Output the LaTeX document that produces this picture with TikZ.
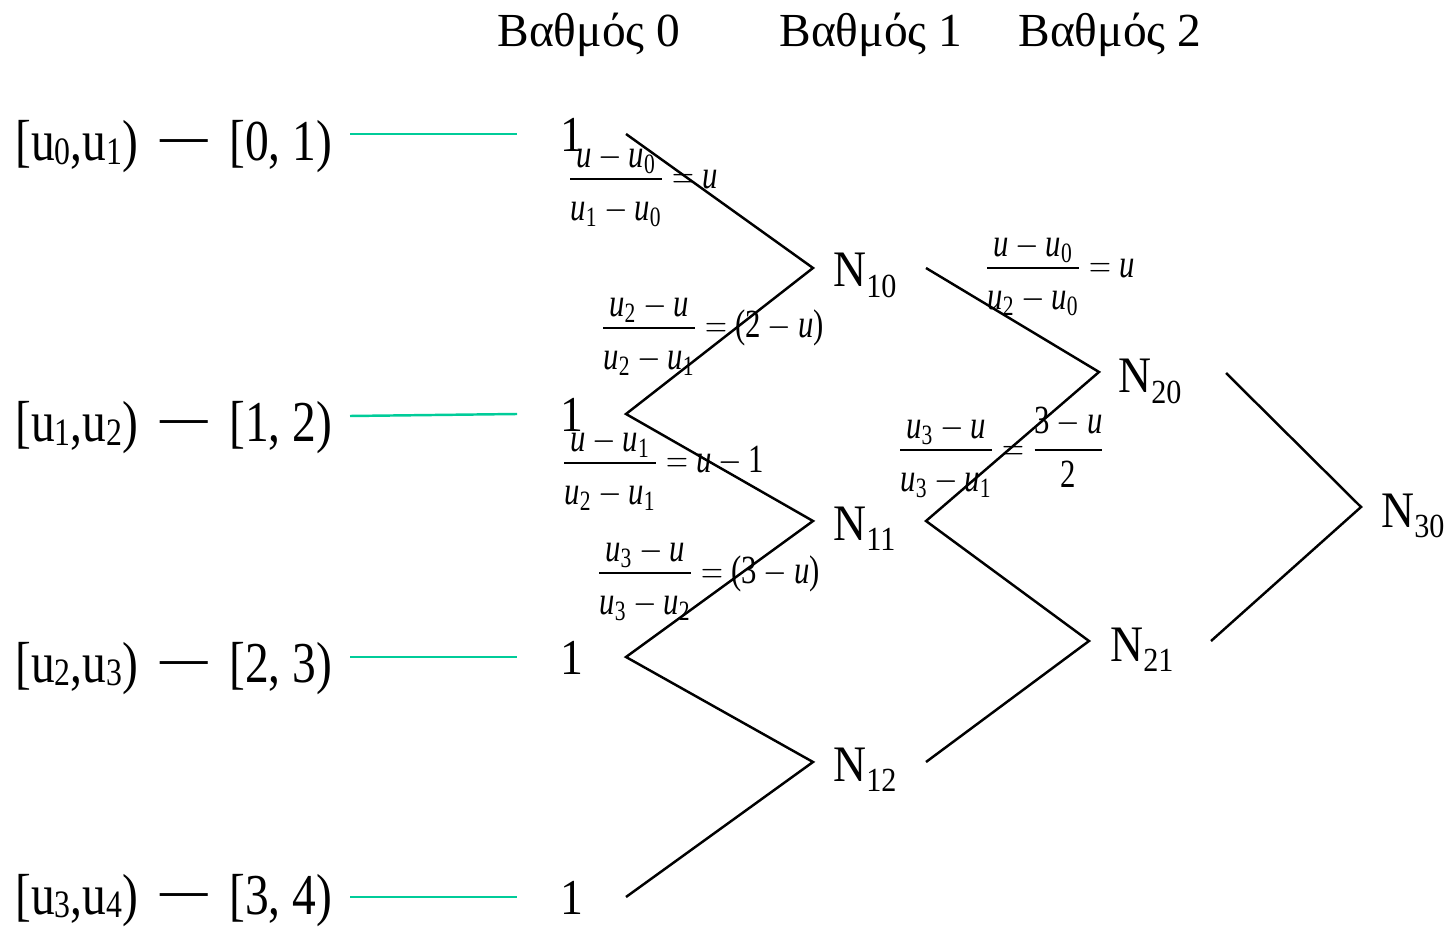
\documentclass[tikz,border=0pt]{standalone}
\usepackage{fontspec}
\usepackage{amsmath}
\usepackage{graphicx}
\setmainfont{Liberation Serif}
\definecolor{greenline}{RGB}{0,204,153}
\newcommand\ls[1]{\raisebox{-0.06em}{\scalebox{0.67}{#1}}}
\newcommand\ns[1]{\raisebox{-0.21em}{\scalebox{0.66}{#1}}}
\newcommand\st[2]{\scalebox{1}[#1]{#2}}
\newcommand\uu{\textit{u}}
\newcommand\dg[1]{\textrm{#1}}
\newcommand\fra[2]{\displaystyle\frac{\raisebox{-0.4em}[0.4em][0pt]{$#1$}}{\raisebox{-0.12em}{$#2$}}}
\begin{document}
\begin{tikzpicture}[x=0.02cm,y=-0.02cm,
  hdr/.style={anchor=base west,inner sep=0,font=\fontsize{27}{30}\selectfont},
  lbl/.style={anchor=base west,inner sep=0,font=\fontsize{27}{30}\selectfont},
  dsh/.style={anchor=base,inner sep=0,font=\fontsize{27}{30}\selectfont},
  one/.style={anchor=base west,inner sep=0,font=\fontsize{26}{30}\selectfont},
  nn/.style={anchor=base west,inner sep=0,font=\fontsize{26}{30}\selectfont},
  fr/.style={anchor=base west,inner sep=0,font=\fontsize{17.5}{20}\selectfont},
  edge/.style={line width=1.4pt,black},
  gline/.style={line width=1.4pt,greenline}]
\path[use as bounding box] (0,0) rectangle (1452,928);
% headers
\node[hdr] (h0) at (497,47) {Βαθμός 0};
\node[hdr] (h1) at (779,47) {Βαθμός 1};
\node[hdr] (h2) at (1018,47) {Βαθμός 2};
% left labels
\foreach \i/\a/\b/\y/\yo in {0/0/1/161/152,1/1/2/442/432,2/2/3/682/674,3/3/4/914/914}{
  \node[lbl] (l\i) at (15,\y) {\st{1.22}{[u\ls{\a},u\ls{\b})}};
  \node[dsh] (d\i) at (184,\y-6) {\st{1.22}{—}};
  \node[lbl] (r\i) at (229,\y) {\st{1.22}{[\a, \b)}};
  \node[one] (o\i) at (560,\yo) {\st{1.1}{1}};
}
% green lines
\coordinate (g0a) at (350,134); \coordinate (g0b) at (517,134);
\coordinate (g1a) at (350,416); \coordinate (g1b) at (517,414);
\coordinate (g2a) at (350,657); \coordinate (g2b) at (517,657);
\coordinate (g3a) at (350,897); \coordinate (g3b) at (517,897);
\foreach \i in {0,1,2,3}{\draw[gline] (g\i a) -- (g\i b);}
% N nodes
\node[nn] (n10) at (833,287) {\st{1.12}{N\ns{10}}};
\node[nn] (n11) at (833,540) {\st{1.12}{N\ns{11}}};
\node[nn] (n12) at (833,781) {\st{1.12}{N\ns{12}}};
\node[nn] (n20) at (1118,393) {\st{1.12}{N\ns{20}}};
\node[nn] (n21) at (1110,661) {\st{1.12}{N\ns{21}}};
\node[nn] (n30) at (1381,527) {\st{1.12}{N\ns{30}}};
% fractions
\node[fr] (f1) at (568,189) {\st{1.3}{$\fra{\uu-\uu_{\dg{0}}}{\uu_{\dg{1}}-\uu_{\dg{0}}}=\uu$}};
\node[fr] (f2) at (601,338) {\st{1.3}{$\fra{\uu_{\dg{2}}-\uu}{\uu_{\dg{2}}-\uu_{\dg{1}}}=\dg{(2}-\uu\dg{)}$}};
\node[fr] (f3) at (562,473) {\st{1.3}{$\fra{\uu-\uu_{\dg{1}}}{\uu_{\dg{2}}-\uu_{\dg{1}}}=\uu-\dg{1}$}};
\node[fr] (f4) at (597,583) {\st{1.3}{$\fra{\uu_{\dg{3}}-\uu}{\uu_{\dg{3}}-\uu_{\dg{2}}}=\dg{(3}-\uu\dg{)}$}};
\node[fr] (f5) at (985,278) {\st{1.3}{$\fra{\uu-\uu_{\dg{0}}}{\uu_{\dg{2}}-\uu_{\dg{0}}}=\uu$}};
\node[fr] (f6) at (898,460) {\st{1.3}{$\fra{\uu_{\dg{3}}-\uu}{\uu_{\dg{3}}-\uu_{\dg{1}}}=\displaystyle\frac{\dg{3}-\uu}{\dg{2}}$}};
% zigzag points
\coordinate (a0) at (626,134);
\coordinate (a1) at (626,414);
\coordinate (a2) at (626,657);
\coordinate (a3) at (626,897);
\coordinate (b0) at (813,268);
\coordinate (b1) at (813,521);
\coordinate (b2) at (813,762);
\coordinate (c0) at (926,268);
\coordinate (c1) at (926,521);
\coordinate (c2) at (926,762);
\coordinate (p0) at (1099,372);
\coordinate (p1) at (1089,641);
\coordinate (q0) at (1226,373);
\coordinate (q1) at (1211,641);
\coordinate (s0) at (1361,507);
\draw[edge] (a0) -- (b0) -- (a1) -- (b1) -- (a2) -- (b2) -- (a3);
\draw[edge] (c0) -- (p0) -- (c1) -- (p1) -- (c2);
\draw[edge] (q0) -- (s0) -- (q1);
\end{tikzpicture}
\end{document}
